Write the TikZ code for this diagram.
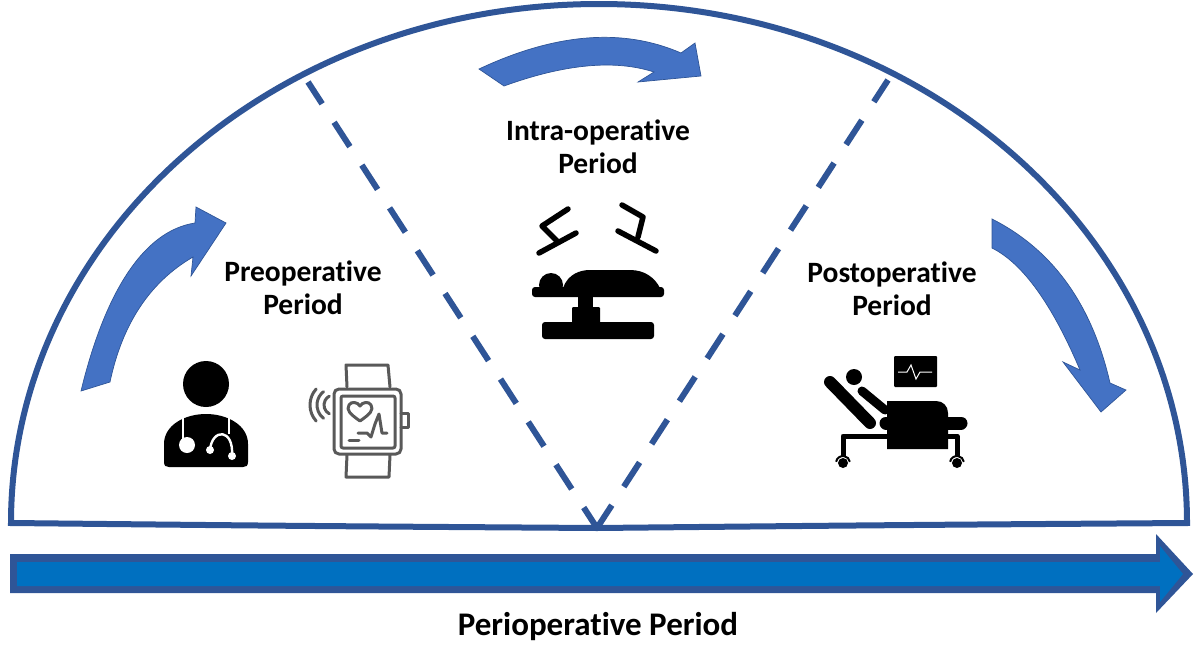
\documentclass[tikz,border=0pt]{standalone}
\usepackage{fontspec}
\setmainfont[Ligatures=NoCommon]{Carlito}
\usetikzlibrary{calc}
\definecolor{domeblue}{HTML}{2F5597}
\definecolor{arcblue}{HTML}{4472C4}
\definecolor{barblue}{HTML}{0070C0}
\definecolor{watchgray}{HTML}{595959}
\tikzset{
        dome/.style={ % Outline of the half disc
            draw=domeblue,
            line width=6pt},
        divider/.style={
            draw=domeblue,
            line width=6pt,
            dash pattern=on 29pt off 22pt,
            dash phase=3pt},
        arcarrow/.style={
            draw=domeblue,
            line width=0.7pt,
            fill=arcblue},
        period/.style={
            font=\bfseries\fontsize{29.5}{33}\selectfont,
            align=center,
            inner sep=0pt},
        solid icon/.style={
            fill=black,
            draw=none},
        thick icon/.style={
            draw=black,
            line width=5.5pt,
            line cap=round,
            line join=round},
        watch line/.style={
            draw=watchgray,
            line width=3pt,
            line cap=round,
            line join=round},
        white line/.style={
            draw=white,
            line width=2.4pt}
        }

\begin{document}
\begin{tikzpicture}[x=1pt,y=-1pt]
    \useasboundingbox (0,0) rectangle (1200,646);

    % half disc
    \coordinate (left)  at (11,523);
    \coordinate (right) at (1187,524);
    \coordinate (apex)  at (597,528);
    \draw[dome, line join=miter] (left) arc[start angle=180, end angle=360, x radius=588, y radius=519]
        .. controls (900,525) .. (apex) .. controls (300,526) .. cycle;

    % dividers
    \coordinate (divl) at (308,82);
    \coordinate (divr) at (888,80);
    \draw[divider] (divl) -- (apex);
    \draw[divider] (divr) -- (apex);

    % curved arrows
    \draw[arcarrow] (81,391) .. controls (104.3,295) and (142.3,231) .. (195,223) -- (196,207) -- (226,223) -- (191,276) -- (193,257)
        .. controls (150,282) and (122.3,323.7) .. (110,382) -- cycle;
    \draw[arcarrow] (479,69) .. controls (555.7,33) and (623,27.7) .. (681,53) -- (695,43) -- (701,76) -- (638,82) -- (654,72)
        .. controls (614.7,59.3) and (564.7,64) .. (504,86) -- cycle;
    \draw[arcarrow] (992,219) .. controls (1052.7,249.7) and (1092,304.3) .. (1110,383) -- (1126,390) -- (1101,412) -- (1063,362) -- (1080,370)
        .. controls (1052,304) and (1022.7,263.3) .. (992,248) -- cycle;

    % long arrow
    \fill[domeblue] (10,554) -- (1156,554) -- (1156,534) -- (1193,574) -- (1156,613) -- (1156,593) -- (10,593) -- cycle;
    \fill[barblue] (17,562) -- (1160,562) -- (1160,546) -- (1183,574) -- (1160,602) -- (1160,586) -- (17,586) -- cycle;

    % labels
    \node[period] (pre)   at (303,288) {Preoperative\\Period};
    \node[period] (intra) at (598,147) {Intra-operative\\Period};
    \node[period] (post)  at (892,289) {Postoperative\\Period};
    \node[period, font=\bfseries\fontsize{33}{38}\selectfont] (peri) at (598,627) {Perioperative Period};

    % doctor
    \fill[solid icon] (206,384) circle[radius=23];
    \fill[solid icon] (164,462) -- (164,444) .. controls (164,425) and (185,414) .. (206,414)
        .. controls (227,414) and (248,425) .. (248,444) -- (248,462)
        .. controls (248,466) and (246,467) .. (243,467) -- (169,467) .. controls (166,467) and (164,466) .. (164,462) -- cycle;
    \draw[white line] (183,416) -- (183,440);
    \fill[white] (187,445) circle[radius=8];
    \draw[white line] (229,416) -- (229,434);
    \draw[white line] (210,450) .. controls (212,428) and (234,428) .. (232,456);
    \fill[white] (210,450) circle[radius=4];
    \fill[white] (232,456) circle[radius=4];

    % watch
    \draw[watch line] (347,387) -- (346,365) -- (388,365) -- (390,387);
    \draw[watch line] (347,455) -- (346,477) -- (389,477) -- (390,455);
    \draw[watch line, rounded corners=5pt] (334,389) rectangle (401,454);
    \draw[watch line, rounded corners=2pt] (341,396) rectangle (395,448);
    \draw[watch line] (401,413) -- (408,413) -- (408,427) -- (401,427);
    \draw[watch line] (360,421) .. controls (350,414) and (346,410) .. (349,405)
        .. controls (351,401) and (358,402) .. (360,406) .. controls (362,402) and (369,401) .. (371,405)
        .. controls (374,410) and (370,414) .. (360,421) -- cycle;
    \draw[watch line] (358,433) -- (367,433) -- (371,437) -- (375,424) -- (379,414) -- (382,433) -- (387,433);
    \draw[watch line] (349,440) -- (359,440);
    \foreach \r/\a in {24/42,17/52,10/62}
        \draw[watch line] ($(334,405)+(180-\a:\r)$) arc[start angle=180-\a, end angle=180+\a, radius=\r];

    % operating table
    \draw[thick icon] (568,209) -- (542,226) -- (558,242);
    \draw[thick icon] (539,253) -- (576,233);
    \draw[thick icon] (622,205) -- (643,217) -- (638,237);
    \draw[thick icon] (618,231) -- (656,251);
    \fill[solid icon, rounded corners=3pt] (532,287) rectangle (664,297);
    \fill[solid icon] (551,285) circle[radius=12];
    \fill[solid icon] (563,288) .. controls (568,274) and (580,270) .. (590,270) -- (630,270)
        .. controls (645,270) and (655,278) .. (660,288) -- cycle;
    \fill[solid icon] (578,296) rectangle (593,308);
    \fill[solid icon, rounded corners=1pt] (572,307) rectangle (600,323);
    \fill[solid icon, rounded corners=3pt] (542,322) rectangle (654,339);

    % recovery bed
    \fill[solid icon, rounded corners=1pt] (894,356) rectangle (937,387);
    \draw[white, line width=1pt] (898,372) -- (907,372) -- (911,365) -- (916,379) -- (920,372) -- (932,372);
    \fill[solid icon] (854,377) circle[radius=8];
    \draw[thick icon, line width=12pt] (830,382) -- (870,423);
    \draw[thick icon, line width=9pt] (862,391) -- (885,410);
    \draw[thick icon, line width=5pt, line cap=butt] (887,436) -- (843,436) -- (843,457);
    \draw[thick icon, line width=5pt, line cap=butt] (948,436) -- (957,436) -- (957,457);
    \draw[thick icon, line width=13pt] (886,423) -- (961,423);
    \fill[solid icon] (887,401) -- (936,401) .. controls (943,401) and (948,406) .. (948,413) -- (948,449) -- (887,449) -- cycle;
    \foreach \w in {843,957} {
        \fill[solid icon] (\w,463) circle[radius=5];
        \draw[black, line width=2pt] ($(\w,463)+(190:7)$) arc[start angle=190, end angle=350, radius=7];
    }
\end{tikzpicture}
\end{document}
